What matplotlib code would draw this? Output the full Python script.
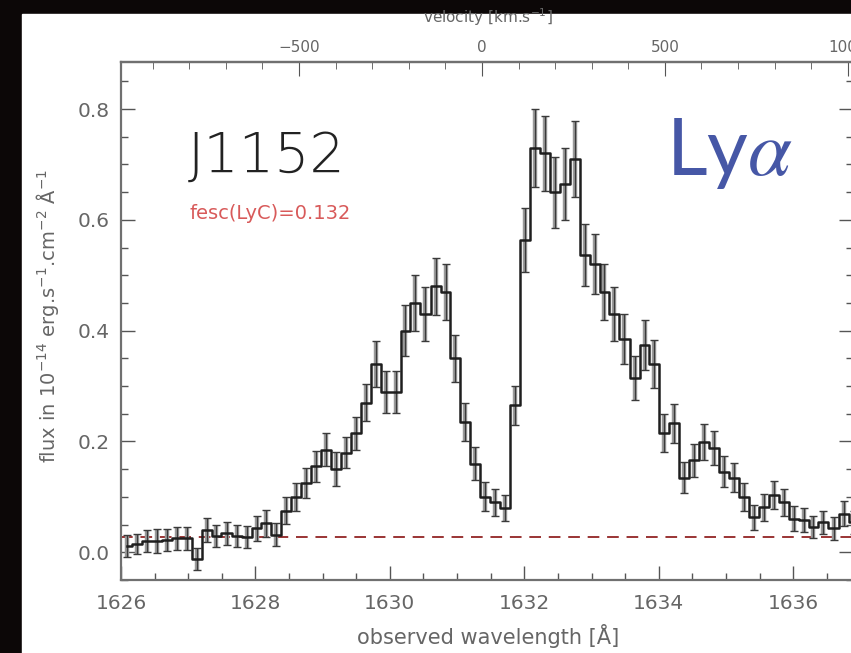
import numpy as np
import matplotlib
matplotlib.use("Agg")
import matplotlib.pyplot as plt
from matplotlib.patches import Rectangle
from matplotlib.ticker import MultipleLocator

# spectrum bins: wavelength [A], flux [1e-14 cgs], 1-sigma error
wave = [1626.09, 1626.24, 1626.39, 1626.54, 1626.68, 1626.83, 1626.98, 1627.13,
        1627.28, 1627.42, 1627.57, 1627.72, 1627.87, 1628.02, 1628.16, 1628.31,
        1628.46, 1628.61, 1628.75, 1628.90, 1629.05, 1629.20, 1629.35, 1629.49,
        1629.64, 1629.79, 1629.94, 1630.09, 1630.23, 1630.38, 1630.53, 1630.68,
        1630.83, 1630.97, 1631.12, 1631.27, 1631.42, 1631.57, 1631.72, 1631.86,
        1632.01, 1632.16, 1632.31, 1632.46, 1632.60, 1632.75, 1632.90, 1633.05,
        1633.19, 1633.34, 1633.49, 1633.64, 1633.79, 1633.93, 1634.08, 1634.23,
        1634.38, 1634.53, 1634.67, 1634.82, 1634.97, 1635.12, 1635.27, 1635.41,
        1635.56, 1635.71, 1635.86, 1636.01, 1636.16, 1636.30, 1636.45, 1636.60,
        1636.75, 1636.90]
flux = [0.012, 0.015, 0.02, 0.02, 0.022, 0.025, 0.025, -0.012,
        0.04, 0.03, 0.034, 0.03, 0.028, 0.043, 0.052, 0.032,
        0.075, 0.10, 0.125, 0.155, 0.185, 0.15, 0.18, 0.215,
        0.27, 0.34, 0.29, 0.29, 0.40, 0.45, 0.43, 0.48,
        0.47, 0.35, 0.235, 0.16, 0.10, 0.09, 0.08, 0.265,
        0.564, 0.73, 0.72, 0.65, 0.665, 0.71, 0.537, 0.52,
        0.47, 0.43, 0.385, 0.315, 0.374, 0.34, 0.215, 0.233,
        0.135, 0.166, 0.199, 0.188, 0.145, 0.135, 0.10, 0.063,
        0.081, 0.103, 0.09, 0.061, 0.058, 0.045, 0.054, 0.043,
        0.07, 0.054]
err = [0.02, 0.018, 0.02, 0.022, 0.02, 0.021, 0.02, 0.02,
       0.022, 0.02, 0.021, 0.02, 0.02, 0.022, 0.024, 0.02,
       0.024, 0.025, 0.027, 0.028, 0.03, 0.031, 0.028, 0.03,
       0.033, 0.042, 0.038, 0.038, 0.046, 0.05, 0.048, 0.052,
       0.05, 0.043, 0.035, 0.03, 0.026, 0.025, 0.024, 0.036,
       0.058, 0.07, 0.068, 0.064, 0.065, 0.068, 0.056, 0.054,
       0.05, 0.048, 0.045, 0.04, 0.045, 0.043, 0.034, 0.035,
       0.028, 0.03, 0.032, 0.031, 0.028, 0.027, 0.025, 0.022,
       0.024, 0.025, 0.024, 0.022, 0.022, 0.02, 0.021, 0.02,
       0.022, 0.021]

continuum = 0.027          # red dashed level
lam0 = 1631.37             # zero velocity
c_kms = 299792.458

wave = np.array(wave)
flux = np.array(flux)
err = np.array(err)

fig = plt.figure(figsize=(8.51, 6.53), dpi=100, facecolor="#0c0707")
# white slide panel
fig.patches.append(Rectangle((22 / 851, 0), 829 / 851, 639 / 653,
                             transform=fig.transFigure, color="white", zorder=-10))

ax = fig.add_axes([121 / 851, 73 / 653, 732 / 851, 518 / 653])
ax.set_xlim(1626, 1636.89)
ax.set_ylim(-0.05, 0.885)

# error bars: grey band + thin dark bar with caps
ax.vlines(wave, flux - err, flux + err, color="#9a9a9a", lw=3.2, zorder=2)
ax.errorbar(wave, flux, yerr=err, fmt="none", ecolor="#3a3a3a",
            elinewidth=0.9, capsize=3.2, capthick=1.0, zorder=3)
ax.step(wave, flux, where="mid", color="#1e1e1e", lw=1.8, zorder=4)
ax.axhline(continuum, color="#9a3434", lw=1.4, ls=(0, (6, 4)), zorder=1)

gray = "#666666"
for s in ax.spines.values():
    s.set_color("#707070")
    s.set_linewidth(1.6)

ax.xaxis.set_major_locator(MultipleLocator(2))
ax.xaxis.set_minor_locator(MultipleLocator(0.5))
ax.yaxis.set_major_locator(MultipleLocator(0.2))
ax.yaxis.set_minor_locator(MultipleLocator(0.05))
ax.yaxis.set_major_formatter(plt.FuncFormatter(lambda v, p: "%.1f" % v))
ax.tick_params(which="both", direction="in", colors="#555555",
               top=False, right=True, labelsize=14.5, labelcolor=gray)
ax.tick_params(which="major", length=10, width=1.0)
ax.tick_params(which="minor", length=5, width=1.0)
ax.tick_params(axis="x", pad=10)
ax.tick_params(axis="y", pad=8)

ax.set_xlabel("observed wavelength [Å]", fontsize=15, color=gray)
ax.xaxis.set_label_coords(0.501, -0.108)
ax.xaxis.label.set_va("center")
ax.set_ylabel("flux in 10$^{-14}$ erg.s$^{-1}$.cm$^{-2}$ Å$^{-1}$", fontsize=14, color=gray)
ax.yaxis.set_label_coords(-0.1, 0.51)
ax.yaxis.label.set_va("center")

# velocity axis on top
sec = ax.secondary_xaxis("top", functions=(lambda l: c_kms * (l / lam0 - 1),
                                           lambda v: lam0 * (1 + v / c_kms)))
sec.xaxis.set_major_locator(MultipleLocator(500))
sec.xaxis.set_minor_locator(MultipleLocator(100))
sec.tick_params(which="both", direction="in", colors="#555555", labelsize=11,
                labelcolor=gray, pad=5)
sec.tick_params(which="major", length=10)
sec.tick_params(which="minor", length=5)
sec.spines["top"].set_color("#707070")
sec.spines["top"].set_linewidth(1.6)
ax.text(0.501, 1.087, "velocity [km.s$^{-1}$]", transform=ax.transAxes,
        ha="center", va="center", fontsize=11, color=gray)

ax.text(0.0915, 0.788, "J1152", transform=ax.transAxes, fontsize=40,
        color="#222222", fontweight="light", va="baseline")
ax.text(0.094, 0.697, "fesc(LyC)=0.132", transform=ax.transAxes, fontsize=14,
        color="#d85a5a", va="baseline")
ax.text(0.745, 0.782, r"Ly$\alpha$", transform=ax.transAxes, fontsize=57,
        color="#4657a6", family="Lato", math_fontfamily="stix", va="baseline")

fig.savefig("out.png", dpi=100, facecolor=fig.get_facecolor())
